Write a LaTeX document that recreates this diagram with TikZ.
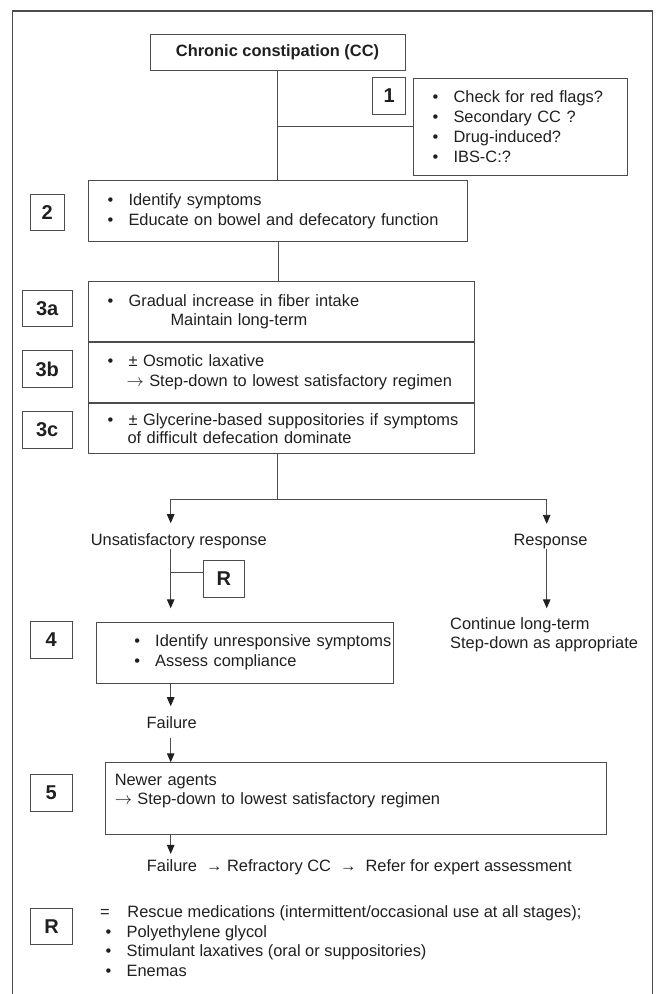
\documentclass[tikz,border=0pt]{standalone}
\usepackage{fontspec}
\setmainfont{Liberation Sans}
\usepackage{tikz}
\usetikzlibrary{arrows.meta,positioning}
\definecolor{linegray}{gray}{0.3}
\definecolor{inkgray}{gray}{0.12}
\tikzstyle{numbox} = [draw=linegray, line width=.9pt, minimum height=36.6pt, inner sep=0pt, font=\fontsize{20}{24}\selectfont\bfseries]
\tikzstyle{stagebox} = [draw=linegray, line width=.9pt, anchor=north west, inner sep=0pt, align=left]
\tikzstyle{conn} = [draw=linegray, line width=.9pt]
\tikzstyle{arr} = [conn, -{Triangle[length=9pt,width=7.5pt,color=inkgray]}]
\tikzset{lpad/.style={execute at begin node={\leftskip=#1\relax}}}
\newcommand{\blt}{\makebox[21pt][l]{\textbullet}}
\newcommand{\toarr}{$\rightarrow$}

\begin{document}
\begin{tikzpicture}[x=1pt,y=-1pt,inner sep=0pt,text=inkgray,font=\fontsize{16.4}{20}\selectfont]
	\useasboundingbox (0,0) rectangle (658,994);
	% outer frame, open at the bottom
	\draw[linegray, line width=1.2pt] (12.3,994) -- (12.3,11) -- (652.3,11) -- (652.3,994);

	\node[draw=linegray, line width=.9pt, minimum width=255pt, minimum height=36.3pt, font=\fontsize{16.4}{20}\selectfont\bfseries] (cc) at (277.5,52.2) {Chronic constipation (CC)};

	\node[numbox, minimum width=33pt] (n1) at (389.2,95.8) {1};
	\node[stagebox, text width=214pt, minimum height=97pt, lpad=19.1pt] (chk) at (413,77.7) {\blt Check for red flags?\\ \blt Secondary CC ?\\ \blt Drug-induced?\\ \blt IBS-C:?};

	\node[numbox, minimum width=33.3pt] (n2) at (47.3,212.3) {2};
	\node[stagebox, text width=378.4pt, minimum height=60.4pt, lpad=18.8pt] (s2) at (88.3,180.3) {\blt Identify symptoms\\ \blt Educate on bowel and defecatory function};

	\node[numbox, minimum width=49.7pt] (n3a) at (47.2,308.3) {3a};
	\node[numbox, minimum width=49.7pt] (n3b) at (47.2,369) {3b};
	\node[numbox, minimum width=49.7pt] (n3c) at (47.2,430) {3c};
	\node[stagebox, text width=386pt, minimum height=60.6pt, lpad=18.8pt, font=\fontsize{16.4}{19}\selectfont] (s3a) at (88.3,280.7) {\blt Gradual increase in fiber intake\\ \hspace*{63pt}Maintain long-term};
	\node[stagebox, text width=386pt, minimum height=59.7pt, lpad=18.8pt] (s3b) at (s3a.south west) {\blt ± Osmotic laxative\\ \hspace*{19pt}\toarr\ Step-down to lowest satisfactory regimen};
	\node[stagebox, text width=386pt, minimum height=50.3pt, lpad=18.8pt, font=\fontsize{16.4}{18}\selectfont] (s3c) at (s3b.south west) {\blt ± Glycerine-based suppositories if symptoms\\ \hspace*{20pt}of difficult defecation dominate};

	\draw[conn] (cc.south) -- (cc.south |- s2.north);
	\draw[conn] (chk.west) -- (chk.west -| cc.south);
	\draw[conn] (s2.south) -- (s2.south |- s3a.north);

	% split after step 3
	\coordinate (fork) at (277.5,499.3);
	\coordinate (lft) at (170.7,499.3);
	\coordinate (rgt) at (546.7,499.3);
	\draw[conn] (s3c.south -| fork) -- (fork);
	\draw[conn] (lft) -- (rgt);

	\node[anchor=base] (unsat) at (178.8,545) {Unsatisfactory response};
	\node[anchor=base] (resp) at (550.5,545) {Response};
	\draw[arr, shorten >=9.7pt] (lft) -- (lft |- unsat.north);
	\draw[arr, shorten >=9.7pt] (rgt) -- (rgt |- resp.north);

	\node[numbox, minimum width=41pt] (rmid) at (223.8,579) {R};
	\draw[conn] ([yshift=6.3pt]rmid.west) -- ([yshift=6.3pt]rmid.west -| lft);

	\node[numbox, minimum width=41.3pt] (n4) at (51.3,640) {4};
	\node[stagebox, text width=296.4pt, minimum height=61pt, lpad=37.5pt] (s4) at (96.3,621.7) {\blt Identify unresponsive symptoms\\ \blt Assess compliance};
	\draw[arr, shorten >=13.4pt] (lft |- unsat.south) -- (lft |- s4.north);

	\node[anchor=north west, align=left, font=\fontsize{16.4}{19}\selectfont] (cont) at (450,617.3) {Continue long-term\\ Step-down as appropriate};
	\draw[arr, shorten >=9pt] (rgt |- resp.south) -- (rgt |- cont.north);

	\node[anchor=base] (fail1) at (171.7,728.3) {Failure};
	\draw[arr, shorten >=10pt] (lft |- s4.south) -- (lft |- fail1.north);

	\node[numbox, minimum width=41.3pt] (n5) at (51.3,792.7) {5};
	\node[stagebox, text width=501pt, minimum height=71.7pt, lpad=9.3pt, font=\fontsize{16.4}{19}\selectfont] (s5) at (105,762.3) {Newer agents\\ \toarr\ Step-down to lowest satisfactory regimen\\ \mbox{}};
	\draw[arr, shorten <=9pt] (lft |- fail1.south) -- (lft |- s5.north);

	\node[anchor=base west] (fail2) at (146.7,871.7) {Failure~~→ Refractory CC~~→~~Refer for expert assessment};
	\draw[arr, shorten >=5.7pt] (lft |- s5.south) -- (lft |- fail2.north);

	% legend for R
	\node[numbox, minimum width=41.6pt] (nR) at (51.5,926.3) {R};
	\node[anchor=north west, align=left, font=\fontsize{16.4}{19.5}\selectfont] (rlist) at (100,905.5) {\makebox[27.3pt][l]{=}Rescue medications (intermittent/occasional use at all stages);\\ \hspace*{5.4pt}\blt Polyethylene glycol\\ \hspace*{5.4pt}\blt Stimulant laxatives (oral or suppositories)\\ \hspace*{5.4pt}\blt Enemas};
\end{tikzpicture}
\end{document}
